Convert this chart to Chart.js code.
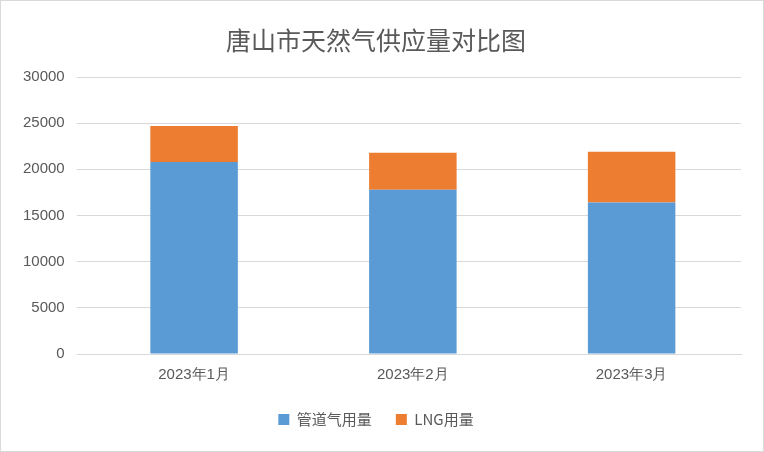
<!DOCTYPE html>
<html><head><meta charset="utf-8">
<script src="https://cdn.jsdelivr.net/npm/chart.js@4"></script>
<style>html,body{margin:0;padding:0;background:#fff}#w{width:762px;height:450px;border:1px solid #d9d9d9;position:relative}</style>
</head><body><div id="w"><canvas id="c"></canvas></div>
<script>
const categories = ["2023年1月","2023年2月","2023年3月"];
const pipeline = [20800,17800,16400];
const lng = [3900,4000,5500];
const yTicks = [0,5000,10000,15000,20000,25000,30000];
const font = "'Noto Sans CJK SC', 'Liberation Sans', sans-serif";
const numFont = "'Liberation Sans', sans-serif";
new Chart(document.getElementById('c'),{
 type:'bar',
 data:{labels:categories,datasets:[
  {label:'管道气用量',data:pipeline,backgroundColor:'#5b9bd5',barPercentage:0.4,categoryPercentage:1},
  {label:'LNG用量',data:lng,backgroundColor:'#ed7d31',barPercentage:0.4,categoryPercentage:1}
 ]},
 options:{responsive:true,maintainAspectRatio:false,animation:false,
  layout:{padding:{left:10,right:22,top:16,bottom:14}},
  plugins:{title:{display:true,text:'唐山市天然气供应量对比图',color:'#595959',font:{family:font,size:25,weight:'normal'},padding:{top:8,bottom:22}},
   legend:{position:'bottom',labels:{color:'#595959',font:{family:font,size:15},boxWidth:11,boxHeight:11,padding:24}},
   tooltip:{enabled:false}},
  scales:{
   x:{stacked:true,grid:{display:false},border:{color:'#d9d9d9'},ticks:{color:'#595959',font:{family:numFont,size:15},padding:4}},
   y:{stacked:true,min:0,max:30000,afterBuildTicks:a=>{a.ticks=yTicks.map(v=>({value:v}))},
    grid:{color:'#d9d9d9'},border:{display:false},ticks:{color:'#595959',font:{family:numFont,size:15},padding:12,callback:v=>String(v)}}
  }}
});
</script></body></html>
